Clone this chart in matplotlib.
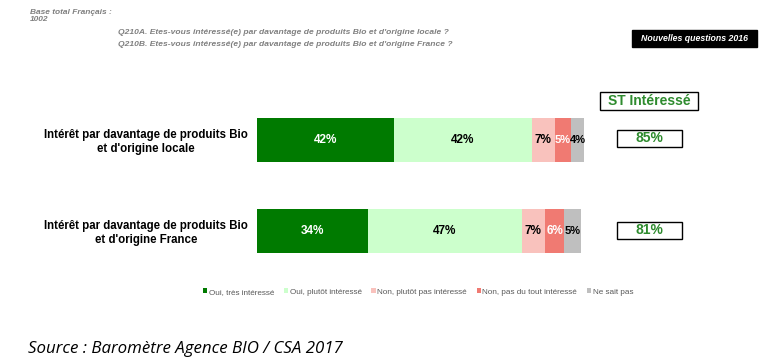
import matplotlib.pyplot as plt
from matplotlib.patches import Rectangle

plt.rcParams['font.family'] = ['Liberation Sans', 'DejaVu Sans']

questions = ["Intérêt par davantage de produits Bio\net d'origine locale",
             "Intérêt par davantage de produits Bio\net d'origine France"]
answers = ["Oui, très intéressé", "Oui, plutôt intéressé", "Non, plutôt pas intéressé",
           "Non, pas du tout intéressé", "Ne sait pas"]
values = [[42, 42, 7, 5, 4],
          [34, 47, 7, 6, 5]]
st_interesse = ["85%", "81%"]

colors = ["#007a00", "#ccffcc", "#f9c2bd", "#f07a72", "#bfbfbf"]
text_colors = ["white", "black", "black", "white", "black"]

W, H = 769, 359
fig = plt.figure(figsize=(W / 100, H / 100), dpi=100)


def fx(px):
    return px / W


def fy(py):
    return 1 - py / H


ax = fig.add_axes([fx(257), fy(276.5), fx(327), 182 / H])
ax.set_xlim(0, 100)
ax.set_ylim(-0.5, 1.5)
ax.axis("off")

ypos = [1, 0]
for i, row in enumerate(values):
    left = 0
    for j, v in enumerate(row):
        ax.barh(ypos[i], v, left=left, height=0.48, color=colors[j],
                label=answers[j] if i == 0 else None)
        fs = 8.5 if v >= 6 else 8
        ax.text(left + v / 2, ypos[i], f"{v}%", ha="center", va="center",
                fontsize=fs, fontweight="bold", color=text_colors[j])
        left += v
    ax.text(-33.9, ypos[i] - 0.02, questions[i], ha="center", va="center",
            fontsize=8.3, fontweight="bold", color="black")

# header texts
fig.text(fx(30), fy(9), "Base total Français :\n1002", ha="left", va="top",
         fontsize=6, style="italic", fontweight="bold", color="#808080", linespacing=0.95)
fig.text(fx(118), fy(32), "Q210A. Etes-vous intéressé(e) par davantage de produits Bio et d'origine locale ?",
         ha="left", va="center", fontsize=6.1, style="italic", fontweight="bold", color="#808080")
fig.text(fx(118), fy(45), "Q210B. Etes-vous intéressé(e) par davantage de produits Bio et d'origine France ?",
         ha="left", va="center", fontsize=6.1, style="italic", fontweight="bold", color="#808080")

# black box
fig.patches.append(Rectangle((fx(632), fy(47)), fx(125), 17 / H, transform=fig.transFigure,
                             facecolor="black", edgecolor="black"))
fig.text(fx(694.5), fy(38.5), "Nouvelles questions 2016", ha="center", va="center",
         fontsize=6.3, style="italic", fontweight="bold", color="white")

# ST Intéressé boxes
fig.patches.append(Rectangle((fx(600), fy(110)), fx(98), 18 / H, transform=fig.transFigure,
                             facecolor="white", edgecolor="black", linewidth=1))
fig.text(fx(649), fy(101), "ST Intéressé", ha="center", va="center",
         fontsize=10, fontweight="bold", color="#2e8b2e")
box_y = [138.5, 230.5]
for i, s in enumerate(st_interesse):
    fig.patches.append(Rectangle((fx(617), fy(box_y[i] + 8.5)), fx(65), 17 / H,
                                 transform=fig.transFigure, facecolor="white",
                                 edgecolor="black", linewidth=1))
    fig.text(fx(649.5), fy(box_y[i]), s, ha="center", va="center",
             fontsize=10, fontweight="bold", color="#2e8b2e")

fig.legend(loc="center", bbox_to_anchor=(fx(418), fy(292)), ncol=5, fontsize=5.9,
           frameon=False, handlelength=0.55, handleheight=0.55, handletextpad=0.15,
           columnspacing=1.2, labelcolor="#595959")

fig.text(fx(28), fy(349), "Source : Baromètre Agence BIO / CSA 2017", ha="left", va="center",
         fontsize=12.2, style="italic", family=["Open Sans", "DejaVu Sans"], color="black")

fig.savefig("out.png", dpi=100)
